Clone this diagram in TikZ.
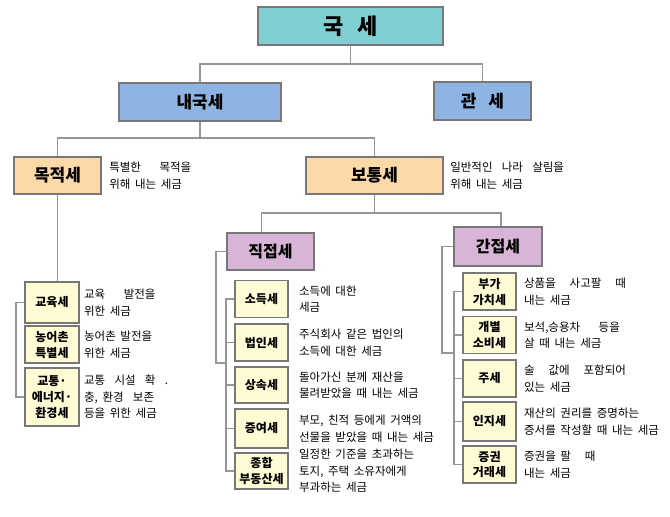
\documentclass[tikz,border=0pt]{standalone}
\usepackage{fontspec}
\setmainfont{Noto Sans CJK KR}
\newfontfamily\descfont[WordSpace=1.8]{Noto Sans CJK KR}
\usepackage{xcolor}
\usetikzlibrary{calc,positioning}

\begin{document}
\begin{tikzpicture}[x=1pt,y=-1pt,
    box/.style={draw=cB,line width=2.2pt,inner sep=0pt,minimum height=38pt,align=center},
    bigbox/.style={box,font=\bfseries\fontsize{17}{17}\selectfont},
    catbox/.style={box,minimum height=37pt,font=\bfseries\fontsize{16}{16}\selectfont},
    leaf/.style={draw=cB,line width=1.8pt,fill=cY,inner sep=0pt,minimum width=53pt,minimum height=37pt,
      align=center,font=\bfseries\fontsize{12}{16}\selectfont},
    desc/.style={inner sep=0pt,align=left,font=\descfont\fontsize{11.5}{16.5}\selectfont},
    link/.style={draw=cL,line width=1.3pt}]
    \definecolor{cB}{RGB}{120,120,120}\definecolor{cL}{RGB}{150,150,150}
    \definecolor{cT}{RGB}{128,208,211}\definecolor{cBl}{RGB}{141,180,226}
    \definecolor{cP}{RGB}{253,216,168}\definecolor{cV}{RGB}{216,180,214}
    \definecolor{cY}{RGB}{255,251,212}
    \useasboundingbox (0,0) rectangle (670,517);
    % ---------- top: 국세 ----------
    \node[box,fill=cT,minimum width=185pt,font=\bfseries\fontsize{22}{22}\selectfont] (gukse) at (350.5,26) {국\hspace{14pt}세};
    \node[bigbox,fill=cBl,minimum width=162pt] (naeguk) at (200,102) {내국세};
    \node[bigbox,fill=cBl,minimum width=97pt] (gwanse) at (482.5,101) {관\hspace{12pt}세};
    \draw[link] (gukse.south) -- ++(0,18) coordinate (j0);
    \draw[link] (naeguk.north) |- (j0) -| (gwanse.north);
    % ---------- 목적세 / 보통세 ----------
    \node[bigbox,fill=cP,minimum width=87pt,minimum height=37pt] (mokjeok) at (57.5,175.5) {목적세};
    \node[bigbox,fill=cP,minimum width=137pt,minimum height=37pt] (botong) at (374.5,175.5) {보통세};
    \draw[link] (naeguk.south) -- ++(0,16) coordinate (j1);
    \draw[link] (mokjeok.north) |- (j1) -| (botong.north);
    \node[desc,right=7pt of mokjeok] (mokjeok-d) {특별한 \ \ \ 목적을\\위해 내는 세금};
    \node[desc,right=6pt of botong] (botong-d) {일반적인 \ 나라 \ 살림을\\위해 내는 세금};
    % ---------- 직접세 / 간접세 ----------
    \node[catbox,fill=cV,minimum width=87pt] (jikjeop) at (270.5,251.5) {직접세};
    \node[catbox,fill=cV,minimum width=88pt,minimum height=39pt] (ganjeop) at (498,246.5) {간접세};
    \draw[link] (botong.south) -- ++(0,18) coordinate (j2);
    \draw[link] ($(jikjeop.north)+(-9,0)$) |- (j2) -| ($(ganjeop.north)+(3,0)$);
    % ---------- 목적세 leaves ----------
    \node[leaf,minimum width=54pt,minimum height=41pt] (gyoyuk) at (52,302.5) {교육세};
    \node[leaf,minimum width=54pt] (nongeochon) at (52,344.5) {농어촌\\특별세};
    \node[leaf,minimum width=54pt,minimum height=58pt] (gyotong) at (52,397) {교통·\\에너지·\\환경세};
    \draw[link] (mokjeok.south) -- (mokjeok.south |- gyoyuk.north);
    \draw[link] (gyoyuk.west) -- ++(-8,0) |- (gyotong.west);
    \node[desc,right=4pt of gyoyuk] (gyoyuk-d) {교육 \ \ \ 발전을\\위한 세금};
    \node[desc,right=4pt of nongeochon] (nongeochon-d) {농어촌 발전을\\위한 세금};
    \node[desc,right=4pt of gyotong] (gyotong-d) {교통 \ 시설 \ 확 \ .\\충, 환경 \ 보존\\등을 위한 세금};
    % ---------- 직접세 leaves ----------
    \node[leaf] (sodeuk) at (261.5,299) {소득세};
    \node[leaf] (beopin) at (261.5,342.5) {법인세};
    \node[leaf,minimum height=36pt] (sangsok) at (261.5,385) {상속세};
    \node[leaf,minimum height=39pt] (jeungyeo) at (261.5,428.5) {증여세};
    \node[leaf,minimum height=36pt] (jonghap) at (261.5,471) {종합\\부동산세};
    \draw[link] (sodeuk.west) -- ++(-8,0) |- (jonghap.west);
    \draw[link] (beopin.west) -- ++(-8,0);
    \draw[link] (sangsok.west) -- ++(-8,0);
    \draw[link] (jeungyeo.west) -- ++(-8,0);
    \coordinate (jbar) at (227,363);
    \draw[link] (jikjeop.west) -- ++(-10,0) |- (jbar);
    \node[desc,right=10pt of sodeuk] (sodeuk-d) {소득에 대한\\세금};
    \node[desc,right=10pt of beopin] (beopin-d) {주식회사 같은 법인의\\소득에 대한 세금};
    \node[desc,right=10pt of sangsok] (sangsok-d) {돌아가신 분께 재산을\\물려받았을 때 내는 세금};
    \node[desc,right=10pt of jeungyeo] (jeungyeo-d) {부모, 친적 등에게 거액의\\선물을 받았을 때 내는 세금};
    \node[desc,right=10pt of jonghap] (jonghap-d) {일정한 기준을 초과하는\\토지, 주택 소유자에게\\부과하는 세금};
    % ---------- 간접세 leaves ----------
    \node[leaf] (bugaga) at (489.5,291.5) {부가\\가치세};
    \node[leaf] (gaebyeol) at (489.5,335) {개별\\소비세};
    \node[leaf] (juse) at (489.5,378.5) {주세};
    \node[leaf,minimum height=39pt] (inji) at (489.5,421.5) {인지세};
    \node[leaf] (jeunggwon) at (489.5,464.5) {증권\\거래세};
    \draw[link] (bugaga.west) -- ++(-8,0) |- (jeunggwon.west);
    \draw[link] (gaebyeol.west) -- ++(-8,0);
    \draw[link] (juse.west) -- ++(-8,0);
    \draw[link] (inji.west) -- ++(-8,0);
    \coordinate (gbar) at (455,353);
    \draw[link] (ganjeop.west) -- ++(-11,0) |- (gbar);
    \node[desc,right=7pt of bugaga] (bugaga-d) {상품을 \ \ 사고팔 \ \ 때\\내는 세금};
    \node[desc,right=7pt of gaebyeol] (gaebyeol-d) {보석,승용차 \ \ \ 등을\\살 때 내는 세금};
    \node[desc,right=7pt of juse] (juse-d) {술 \ \ 값에 \ \ 포함되어\\있는 세금};
    \node[desc,right=7pt of inji] (inji-d) {재산의 권리를 증명하는\\증서를 작성할 때 내는 세금};
    \node[desc,right=7pt of jeunggwon] (jeunggwon-d) {증권을 팔 \ \ 때\\내는 세금};
  \end{tikzpicture}
\end{document}
